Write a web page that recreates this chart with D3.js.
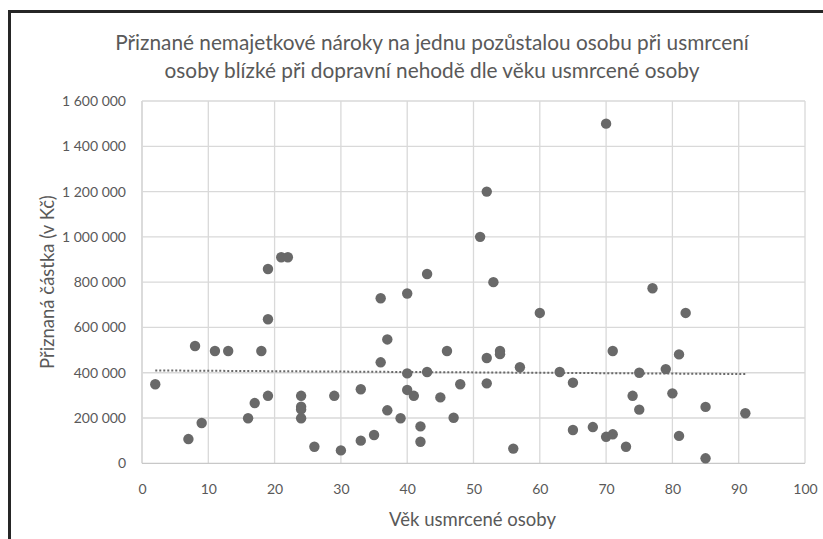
<!DOCTYPE html>
<html>
<head>
<meta charset="utf-8">
<script src="https://cdn.jsdelivr.net/npm/d3@7"></script>
<style>
	body { margin: 0; background: #fff; }
	text { font-family: Lato, "Noto Sans", sans-serif; fill: #595959; }
</style>
</head>
<body>
<div id="canvas"></div>
<script>
var ages = [2, 7, 8, 9, 11, 13, 16, 17, 18, 19, 19, 19, 21, 22, 24, 24, 24, 24, 26, 29, 30,
	33, 33, 35, 36, 36, 37, 37, 39, 40, 40, 40, 41, 42, 42, 43, 43, 45, 46, 47, 48,
	51, 52, 52, 52, 53, 54, 54, 56, 57, 60, 63, 65, 65, 68, 70, 70, 71, 71, 73, 74,
	75, 75, 77, 79, 80, 81, 81, 82, 85, 85, 91];
var amounts = [349000, 107000, 518000, 178000, 496000, 496000, 199000, 266000, 496000, 858000, 636000, 298000, 910000, 910000, 298000, 250000, 238000, 199000, 73000, 298000, 57000,
	327000, 100000, 125000, 729000, 446000, 547000, 234000, 199000, 750000, 397000, 324000, 298000, 163000, 95000, 836000, 403000, 291000, 496000, 201000, 349000,
	1000000, 1200000, 465000, 353000, 800000, 496000, 482000, 65000, 424000, 664000, 403000, 356000, 147000, 160000, 1500000, 117000, 496000, 128000, 73000, 298000,
	400000, 237000, 773000, 416000, 309000, 481000, 121000, 664000, 249000, 22000, 221000];
var xTicks = [0, 10, 20, 30, 40, 50, 60, 70, 80, 90, 100];
var yTicks = [0, 200000, 400000, 600000, 800000, 1000000, 1200000, 1400000, 1600000];
var titleLines = ["Přiznané nemajetkové nároky na jednu pozůstalou osobu při usmrcení",
	"osoby blízké při dopravní nehodě dle věku usmrcené osoby"];
var xTitle = "Věk usmrcené osoby";
var yTitle = "Přiznaná částka (v Kč)";

var width = 823, height = 539;
var plotL = 142, plotR = 805, plotT = 101, plotB = 463.3;
var svg = d3.select("#canvas").append("svg").attr("width", width).attr("height", height);

var x = d3.scaleLinear().domain([0, 100]).range([plotL, plotR]);
var y = d3.scaleLinear().domain([0, 1600000]).range([plotB, plotT]);

var fmt = function(v) {
	return d3.format(",")(v).replace(/,/g, "\u00a0");
};

// frame
svg.append("path")
	.attr("d", "M9.5," + height + "V11.5H" + width)
	.attr("fill", "none")
	.attr("stroke", "#262626")
	.attr("stroke-width", 3);

// gridlines
svg.append("g").selectAll("line").data(xTicks).join("line")
	.attr("x1", function(d) { return x(d); }).attr("x2", function(d) { return x(d); })
	.attr("y1", plotT).attr("y2", plotB)
	.attr("stroke", function(d) { return d === 0 ? "#c8c8c8" : "#d9d9d9"; })
	.attr("stroke-width", 1.3);
svg.append("g").selectAll("line").data(yTicks).join("line")
	.attr("x1", plotL).attr("x2", plotR)
	.attr("y1", function(d) { return y(d); }).attr("y2", function(d) { return y(d); })
	.attr("stroke", function(d) { return d === 0 ? "#c8c8c8" : "#d9d9d9"; })
	.attr("stroke-width", 1.3);

// axes (labels only)
var xAxis = svg.append("g").attr("transform", "translate(0," + plotB + ")")
	.call(d3.axisBottom(x).tickValues(xTicks).tickSize(0).tickPadding(21));
var yAxis = svg.append("g").attr("transform", "translate(" + plotL + ",0)")
	.call(d3.axisLeft(y).tickValues(yTicks).tickFormat(fmt).tickSize(0).tickPadding(16));
[xAxis, yAxis].forEach(function(a) {
	a.select(".domain").remove();
	a.selectAll("text").style("font-size", "14px").style("fill", "#595959")
		.style("font-family", "Lato, 'Noto Sans', sans-serif");
});

// trendline (linear least squares, like Excel)
var mx = d3.mean(ages), my = d3.mean(amounts);
var sxy = d3.sum(ages, function(a, i) { return (a - mx) * (amounts[i] - my); });
var sxx = d3.sum(ages, function(a) { return (a - mx) * (a - mx); });
var slope = sxy / sxx, icpt = my - slope * mx;
var ext = d3.extent(ages);
svg.append("line")
	.attr("x1", x(ext[0])).attr("y1", y(icpt + slope * ext[0]))
	.attr("x2", x(ext[1])).attr("y2", y(icpt + slope * ext[1]))
	.attr("stroke", "#6a6a6a")
	.attr("stroke-width", 2)
	.attr("stroke-dasharray", "2,2");

// points
svg.append("g").selectAll("circle").data(ages).join("circle")
	.attr("cx", function(d) { return x(d); })
	.attr("cy", function(d, i) { return y(amounts[i]); })
	.attr("r", 5.2)
	.attr("fill", "#696969");

// titles
svg.append("g").selectAll("text").data(titleLines).join("text")
	.attr("x", 432)
	.attr("y", function(d, i) { return 50 + i * 28; })
	.attr("text-anchor", "middle")
	.style("font-size", "20.8px")
	.text(function(d) { return d; });

svg.append("text")
	.attr("x", (plotL + plotR) / 2 - 1).attr("y", 526)
	.attr("text-anchor", "middle")
	.style("font-size", "18.5px")
	.text(xTitle);

svg.append("text")
	.attr("transform", "translate(54," + (plotT + plotB) / 2 + ") rotate(-90)")
	.attr("text-anchor", "middle")
	.style("font-size", "18.5px")
	.text(yTitle);
</script>
</body>
</html>
